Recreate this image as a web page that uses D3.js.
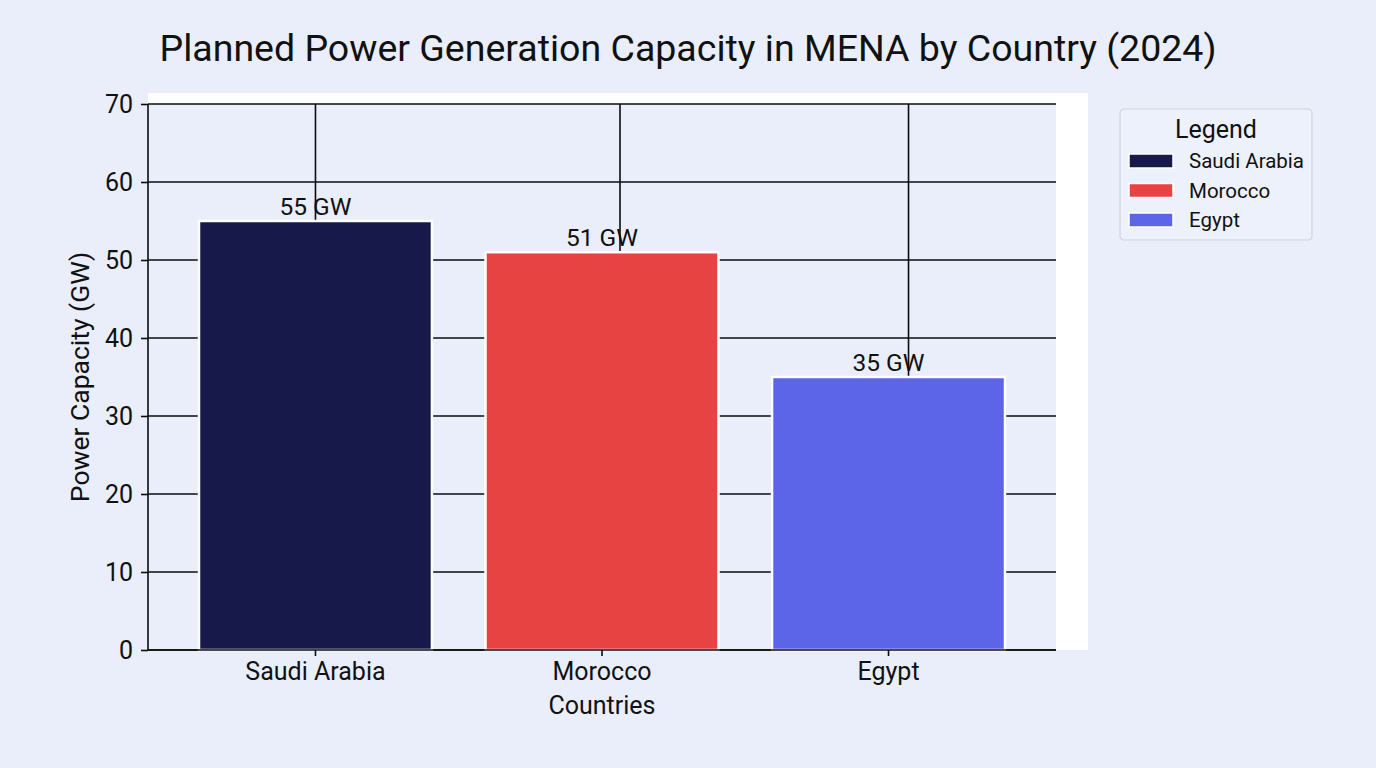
<!DOCTYPE html>
<html>
  <head>
    <title>Planned Power Generation Capacity in MENA</title>
    <script type="text/javascript" src="https://cdnjs.cloudflare.com/ajax/libs/d3/7.8.5/d3.min.js"></script>
    <style>
      body { margin: 0; background: #e9eefa; }
      text { font-family: Roboto, "Noto Sans", sans-serif; fill: #111; }
    </style>
  </head>
  <body>
  <script>

    var countries = ['Saudi Arabia', 'Morocco', 'Egypt'];
    var capacity = [55, 51, 35];
    var colors = ['#18194b', '#e84343', '#5c64e8'];
    var yTicks = [0, 10, 20, 30, 40, 50, 60, 70];
    // the vertical grid lines sit a little off the bar centres in the original
    var gridShift = [0, 18, 20];

    var W = 1376, H = 768;
    var mLeft = 148, mRight = 1056, mTop = 104, mBottom = 650;

    var svg = d3.select('body')
              .append('svg')
              .attr('width', W)
              .attr('height', H);

    svg.append('rect')
      .attr('width', W).attr('height', H)
      .attr('fill', '#e9eefa');

    // white frame behind the plot
    svg.append('rect')
      .attr('x', mLeft).attr('y', mTop - 11)
      .attr('width', mRight - mLeft + 32).attr('height', mBottom - mTop + 11)
      .attr('fill', '#ffffff');
    svg.append('rect')
      .attr('x', mLeft).attr('y', mTop)
      .attr('width', mRight - mLeft).attr('height', mBottom - mTop)
      .attr('fill', '#e9eefa');

    var x = d3.scaleBand()
      .range([mLeft, mRight])
      .domain(countries)
      .paddingInner(0.187)
      .paddingOuter(0.178);

    var y = d3.scaleLinear()
      .range([mBottom, mTop])
      .domain([0, 70]);

    // grid
    svg.append('g')
      .selectAll('line')
      .data(yTicks)
      .enter().append('line')
      .attr('x1', mLeft).attr('x2', mRight)
      .attr('y1', function(d) { return y(d); })
      .attr('y2', function(d) { return y(d); })
      .attr('stroke', '#0d0d0d').attr('stroke-width', 1.6);

    svg.append('g')
      .selectAll('line')
      .data(countries)
      .enter().append('line')
      .attr('x1', function(d, i) { return x(d) + x.bandwidth() / 2 + gridShift[i]; })
      .attr('x2', function(d, i) { return x(d) + x.bandwidth() / 2 + gridShift[i]; })
      .attr('y1', mTop).attr('y2', mBottom)
      .attr('stroke', '#0d0d0d').attr('stroke-width', 1.6);

    // bars
    svg.append('g')
      .selectAll('rect')
      .data(capacity)
      .enter().append('rect')
      .attr('x', function(d, i) { return x(countries[i]); })
      .attr('y', function(d) { return y(d); })
      .attr('width', x.bandwidth())
      .attr('height', function(d) { return y(0) - y(d); })
      .attr('fill', function(d, i) { return colors[i]; })
      .attr('stroke', '#ffffff').attr('stroke-width', 2.5);

    // value labels
    svg.append('g')
      .selectAll('text')
      .data(capacity)
      .enter().append('text')
      .attr('x', function(d, i) { return x(countries[i]) + x.bandwidth() / 2; })
      .attr('y', function(d) { return y(d) - 6; })
      .attr('text-anchor', 'middle')
      .attr('font-size', 24.5)
      .text(function(d) { return d + ' GW'; });

    // axes
    var yAxis = svg.append('g')
      .attr('transform', 'translate(' + mLeft + ',0)')
      .call(d3.axisLeft(y).tickValues(yTicks).tickSize(7).tickPadding(8));
    var xAxis = svg.append('g')
      .attr('transform', 'translate(0,' + mBottom + ')')
      .call(d3.axisBottom(x).tickSize(6).tickPadding(6).tickSizeOuter(0));

    [yAxis, xAxis].forEach(function(a) {
      a.selectAll('path, line').attr('stroke', '#0d0d0d').attr('stroke-width', 1.6);
      a.selectAll('text').attr('font-size', 25).attr('fill', '#111')
        .attr('font-family', 'Roboto, sans-serif');
    });
    yAxis.select('.domain').attr('d', 'M0,' + mBottom + 'V' + mTop);
    xAxis.select('.domain').attr('d', 'M' + mLeft + ',0H' + mRight);

    // titles
    svg.append('text')
      .attr('x', 688).attr('y', 61)
      .attr('text-anchor', 'middle')
      .attr('font-size', 37.5)
      .text('Planned Power Generation Capacity in MENA by Country (2024)');

    svg.append('text')
      .attr('x', (mLeft + mRight) / 2).attr('y', 714)
      .attr('text-anchor', 'middle')
      .attr('font-size', 25)
      .text('Countries');

    svg.append('text')
      .attr('transform', 'translate(89,' + (mTop + mBottom) / 2 + ') rotate(-90)')
      .attr('text-anchor', 'middle')
      .attr('font-size', 26.5)
      .text('Power Capacity (GW)');

    // legend
    var lg = svg.append('g').attr('transform', 'translate(1120,109)');
    lg.append('rect')
      .attr('width', 192).attr('height', 131).attr('rx', 4)
      .attr('fill', '#edf1fb').attr('stroke', '#cfd3dc').attr('stroke-width', 1.2);
    lg.append('text')
      .attr('x', 96).attr('y', 29)
      .attr('text-anchor', 'middle')
      .attr('font-size', 25)
      .text('Legend');
    var items = lg.selectAll('g.item')
      .data(countries)
      .enter().append('g')
      .attr('transform', function(d, i) { return 'translate(0,' + (52 + i * 29.5) + ')'; });
    items.append('rect')
      .attr('x', 9).attr('y', -7).attr('width', 44).attr('height', 14)
      .attr('fill', function(d, i) { return colors[i]; })
      .attr('stroke', '#ffffff').attr('stroke-width', 1.5);
    items.append('text')
      .attr('x', 69).attr('y', 7)
      .attr('font-size', 20.5)
      .text(function(d) { return d; });

  </script>
 </body>
</html>
